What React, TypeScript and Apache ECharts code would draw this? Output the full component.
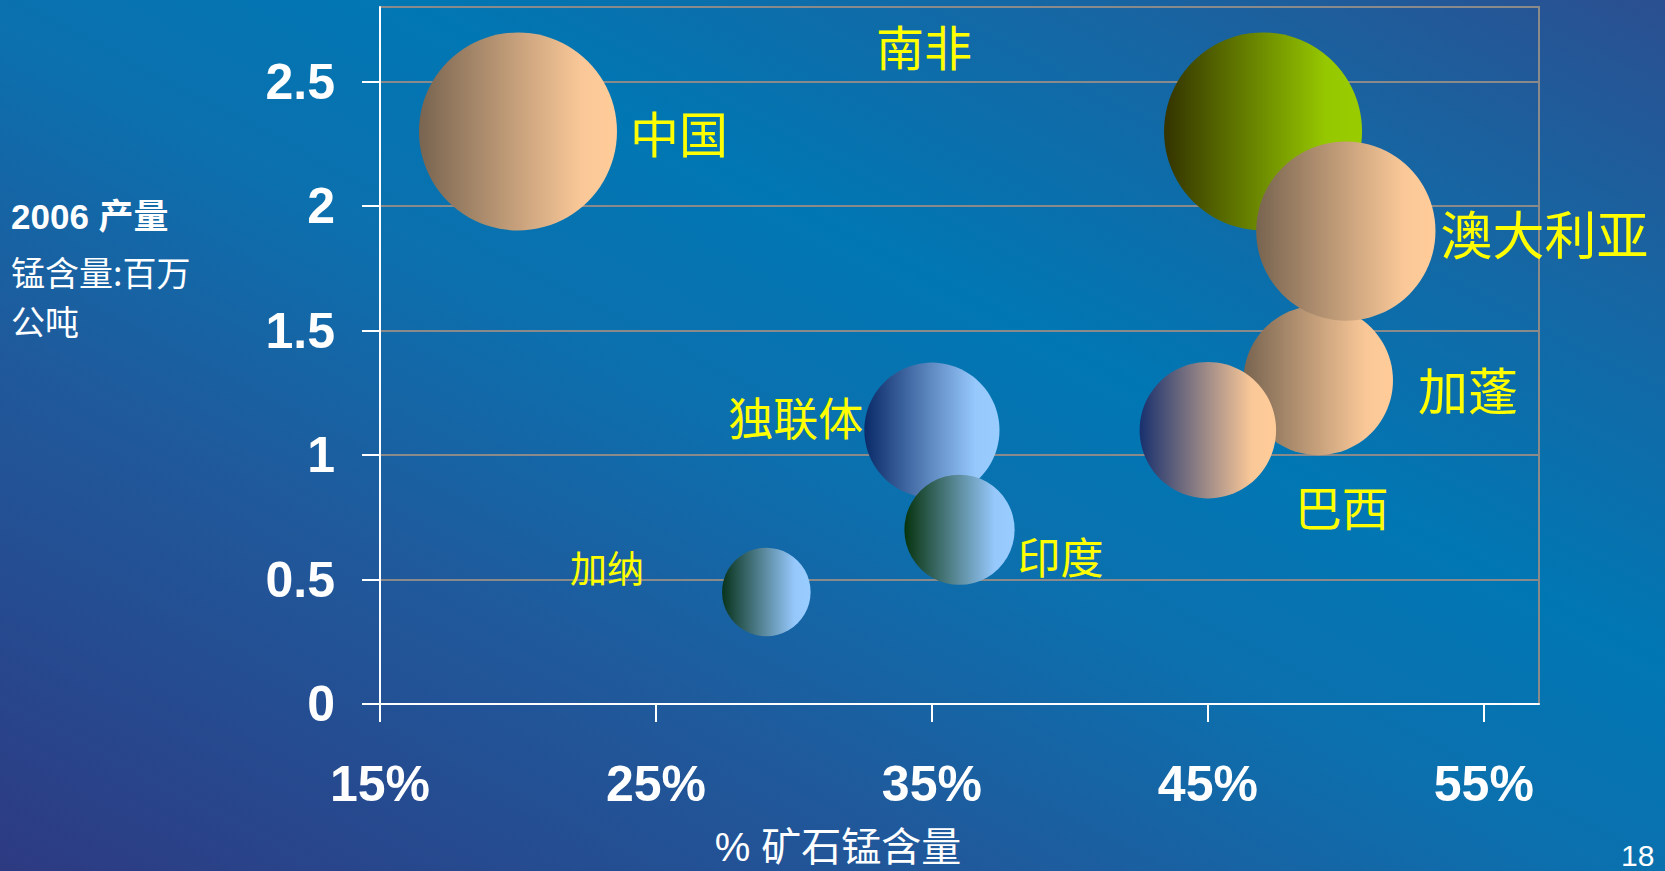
import React, { useEffect, useRef } from "react";
import * as echarts from "echarts";

// ---- data ----
const countries = ["中国", "南非", "加蓬", "澳大利亚", "巴西", "独联体", "印度", "加纳"];
const oreGrade = [20, 47, 49, 50, 45, 35, 36, 29]; // % 矿石锰含量
const production = [2.3, 2.3, 1.3, 1.9, 1.1, 1.1, 0.7, 0.45]; // 百万公吨
const bubbleValue = [100, 100, 57, 82, 47.5, 46.6, 31, 20]; // relative bubble size
const xTicks = [15, 25, 35, 45, 55];
const yTicks = [0, 0.5, 1, 1.5, 2, 2.5];

// ---- styles (per bubble) ----
const PEACH = ["#786450", "#fac898", "#ffcc99"];
const bubbleColors: string[][] = [
  PEACH,
  ["#333300", "#96c800", "#99cc00"],
  PEACH,
  PEACH,
  ["#18306e", "#fac898", "#ffcc99"],
  ["#0a2a68", "#96c8fc", "#99ccff"],
  ["#06330e", "#96c8fc", "#99ccff"],
  ["#08331c", "#96c8fc", "#99ccff"],
];
const labelStyles: any[] = [
  { position: "right", distance: 13, offset: [0, 0], fontSize: 49 },
  { position: "inside", offset: [-339, -86], fontSize: 48 },
  { position: "right", distance: 25, offset: [0, 8], fontSize: 50 },
  { position: "right", distance: 5, offset: [0, 1], fontSize: 52 },
  { position: "inside", offset: [134, 75], fontSize: 47 },
  { position: "left", distance: 1, offset: [0, -14], fontSize: 45 },
  { position: "right", distance: 3, offset: [0, 25], fontSize: 43 },
  { position: "left", distance: 78, offset: [0, -25], fontSize: 37 },
];

const W = 1665;
const H = 871;

export default function App() {
  const ref = useRef<HTMLDivElement>(null);

  useEffect(() => {
    document.body.style.margin = "0";
    if (!ref.current) return;
    const chart = echarts.init(ref.current, undefined, { renderer: "svg" });

    const data = countries.map((name, i) => {
      const c = bubbleColors[i];
      const l = labelStyles[i];
      return {
        name,
        value: [oreGrade[i], production[i], bubbleValue[i]],
        itemStyle: {
          opacity: 1,
          color: new echarts.graphic.LinearGradient(0, 0, 1, 0, [
            { offset: 0, color: c[0] },
            { offset: 0.82, color: c[1] },
            { offset: 1, color: c[2] },
          ]),
        },
        label: {
          show: true,
          formatter: name,
          position: l.position,
          distance: l.distance,
          offset: l.offset,
          fontSize: l.fontSize,
          color: "#ffff00",
          opacity: 1,
          fontFamily: "'Noto Sans CJK SC', sans-serif",
        },
      };
    });

    const option: any = {
      animation: false,
      backgroundColor: "transparent",
      grid: {
        left: 380,
        right: W - 1539,
        top: 7,
        bottom: H - 704,
        show: true,
        borderColor: "#8a8a8a",
        borderWidth: 2,
        backgroundColor: "transparent",
      },
      xAxis: {
        type: "value",
        min: 15,
        max: 57,
        axisLine: { show: true, onZero: false, lineStyle: { color: "#ffffff", width: 2 } },
        axisTick: {
          show: true,
          length: 18,
          customValues: xTicks,
          lineStyle: { color: "#ffffff", width: 2 },
        },
        axisLabel: {
          customValues: xTicks,
          formatter: (v: number) => v + "%",
          color: "#ffffff",
          fontSize: 50,
          fontWeight: "bold",
          fontFamily: "'Liberation Sans', Arial, sans-serif",
          margin: 55,
        },
        splitLine: { show: false },
      },
      yAxis: {
        type: "value",
        min: 0,
        max: 2.8,
        axisLine: { show: true, onZero: false, lineStyle: { color: "#ffffff", width: 2 } },
        axisTick: {
          show: true,
          length: 18,
          customValues: yTicks,
          lineStyle: { color: "#ffffff", width: 2 },
        },
        axisLabel: {
          customValues: yTicks,
          formatter: (v: number) => String(v),
          color: "#ffffff",
          fontSize: 50,
          fontWeight: "bold",
          fontFamily: "'Liberation Sans', Arial, sans-serif",
          margin: 45,
        },
        splitLine: { show: true, lineStyle: { color: "#8a8a8a", width: 2 } },
      },
      series: [
        {
          type: "scatter",
          symbol: "circle",
          symbolSize: (val: number[]) => 198 * Math.sqrt(val[2] / 100),
          itemStyle: { opacity: 1 },
          emphasis: { disabled: true },
          data,
          z: 3,
        },
      ],
      graphic: [
        {
          type: "text",
          x: 11,
          y: 216,
          style: {
            text: "2006 产量",
            fill: "#ffffff",
            fontSize: 35,
            fontWeight: "bold",
            fontFamily: "'Liberation Sans', Arial, 'Noto Sans CJK SC', sans-serif",
            verticalAlign: "middle",
            align: "left",
          },
        },
        {
          type: "text",
          x: 11,
          y: 271,
          style: {
            text: "锰含量:百万",
            fill: "#ffffff",
            fontSize: 34,
            fontFamily: "'Noto Sans CJK SC', sans-serif",
            verticalAlign: "middle",
            align: "left",
          },
        },
        {
          type: "text",
          x: 11,
          y: 320,
          style: {
            text: "公吨",
            fill: "#ffffff",
            fontSize: 34,
            fontFamily: "'Noto Sans CJK SC', sans-serif",
            verticalAlign: "middle",
            align: "left",
          },
        },
        {
          type: "text",
          x: 838,
          y: 847,
          style: {
            text: "% 矿石锰含量",
            fill: "#ffffff",
            fontSize: 40,
            fontFamily: "'Liberation Sans', Arial, 'Noto Sans CJK SC', sans-serif",
            verticalAlign: "middle",
            align: "center",
          },
        },
        {
          type: "text",
          x: 1621,
          y: 855,
          style: {
            text: "18",
            fill: "#ffffff",
            fontSize: 30,
            fontFamily: "'Liberation Sans', Arial, sans-serif",
            verticalAlign: "middle",
            align: "left",
          },
        },
      ],
    };

    chart.setOption(option);
    return () => chart.dispose();
  }, []);

  return (
    <div
      style={{
        position: "fixed",
        left: 0,
        top: 0,
        width: W,
        height: H,
        overflow: "hidden",
        background:
          "linear-gradient(to top right, #2d3a82 0%, #1f5a9c 30%, #0c70ae 48%, #0077b3 62%, #1666a3 82%, #2b4f90 100%)",
      }}
    >
      <div ref={ref} style={{ width: W, height: H }} />
    </div>
  );
}
